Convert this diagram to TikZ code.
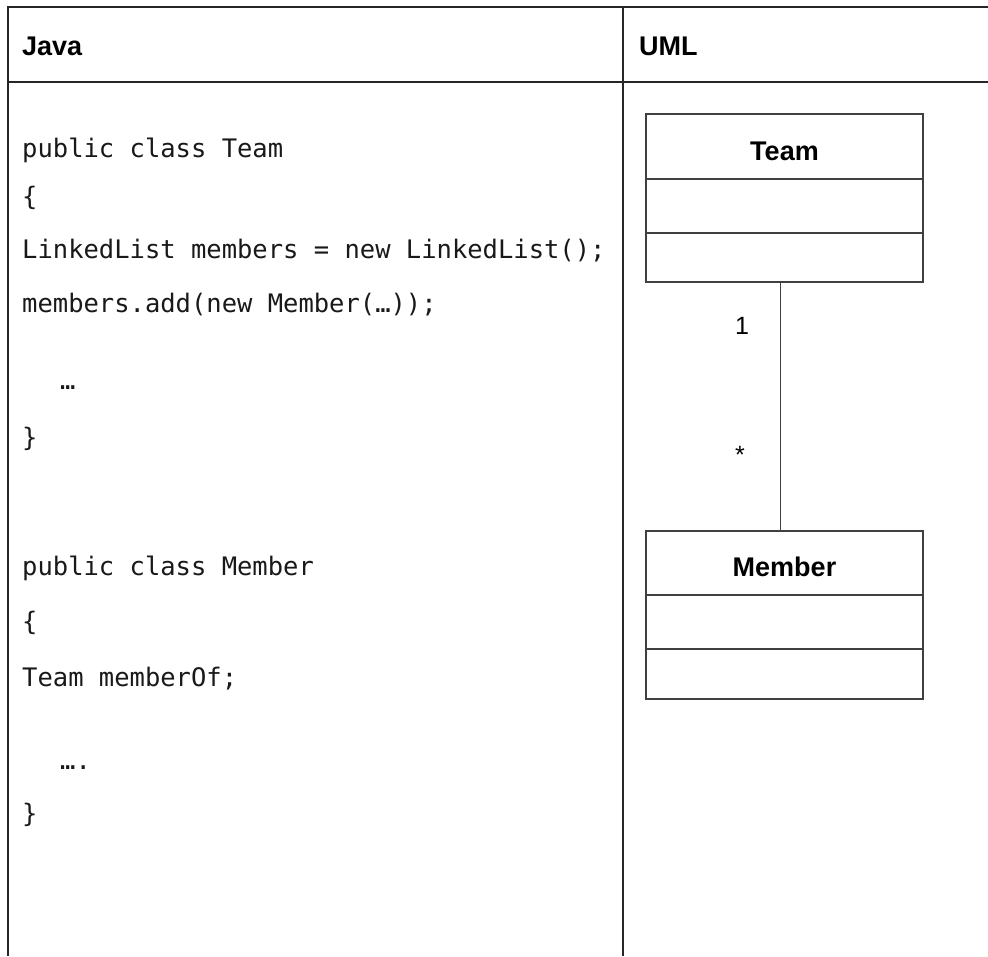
\documentclass[tikz,border=0pt]{standalone}
\usepackage{fontspec}
\setmainfont{Liberation Sans}
\newfontfamily\codefont{DejaVu Sans Mono}
\begin{document}
\begin{tikzpicture}[x=1pt,y=-1pt,
  frame/.style={line width=2pt,draw=black!85},
  head/.style={font=\fontsize{27}{30}\selectfont\bfseries,anchor=base west,inner sep=0pt},
  code/.style={font=\codefont\fontsize{25.5}{28}\selectfont,anchor=base west,inner sep=0pt,text=black!90},
  part/.style={draw=black!75,line width=1.6pt,minimum width=277pt,inner sep=0pt,outer sep=0pt},
  cname/.style={font=\fontsize{27}{30}\selectfont\bfseries,text height=27pt,text depth=0pt},
  mult/.style={font=\fontsize{25}{27}\selectfont,inner sep=0pt},
  assoc/.style={draw=black!75,line width=1.8pt}]
\useasboundingbox (0,0) rectangle (988,956);
% table frame
\coordinate (tl) at (8,7);
\coordinate (tr) at (988,7);
\coordinate (bl) at (8,956);
\coordinate (hl) at (8,82);
\coordinate (hr) at (988,82);
\coordinate (ct) at (623,7);
\coordinate (cb) at (623,956);
\draw[frame] (tr) -- (tl) -- (bl);
\draw[frame] (hl) -- (hr);
\draw[frame] (ct) -- (cb);
% headers
\node[head] (java) at (22,55) {Java};
\node[head] (uml) at (639,55) {UML};
% code
\node[code] (c1) at (22,157) {public class Team};
\node[code] (c2) at (22,205) {\{};
\node[code] (c3) at (22,258) {LinkedList members = new LinkedList();};
\node[code] (c4) at (22,312) {members.add(new Member(…));};
\node[code] (c5) at (60,389) {…};
\node[code] (c6) at (22,446) {\}};
\node[code] (c7) at (22,575) {public class Member};
\node[code] (c8) at (22,630) {\{};
\node[code] (c9) at (22,686) {Team memberOf;};
\node[code] (c10) at (60,769) {….};
\node[code] (c11) at (22,822) {\}};
% Team class
\node[part,minimum height=65pt,anchor=north,cname] (tname) at (784.5,114) {Team};
\node[part,minimum height=54pt,anchor=north] (tattr) at (tname.south) {};
\node[part,minimum height=49pt,anchor=north] (tops) at (tattr.south) {};
% Member class
\node[part,minimum height=64pt,anchor=north,cname] (mname) at (784.5,531) {Member};
\node[part,minimum height=54pt,anchor=north] (mattr) at (mname.south) {};
\node[part,minimum height=50pt,anchor=north] (mops) at (mattr.south) {};
% association
\draw[assoc] ([xshift=-4pt]tops.south) -- ([xshift=-4pt]mname.north);
\node[mult] (one) at (742,326) {1};
\node[mult] (many) at (740,455) {*};
\end{tikzpicture}
\end{document}
